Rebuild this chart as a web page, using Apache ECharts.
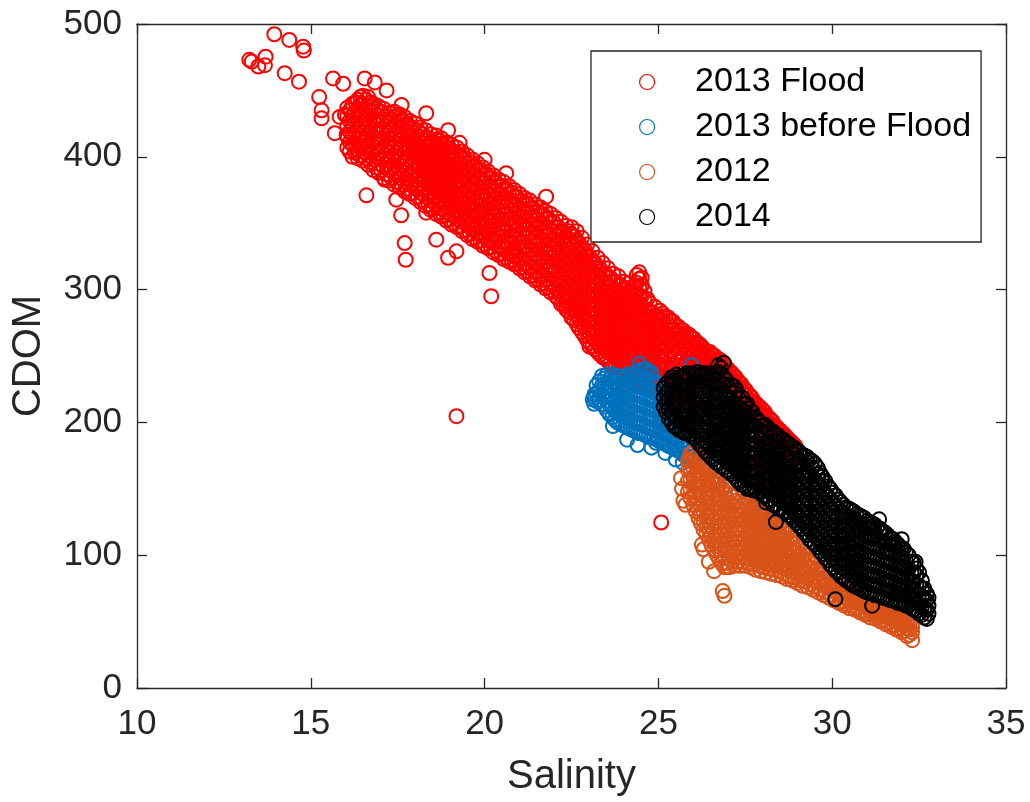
<!DOCTYPE html>
<html><head><meta charset="utf-8">
<script src="https://cdn.jsdelivr.net/npm/echarts/dist/echarts.min.js"></script>
<style>html,body{margin:0;padding:0;background:#fff}#c{width:1030px;height:802px}</style>
</head><body><div id="c"></div>
<script>
// ---- data (salinity, CDOM) ----
const seriesNames = ['2013 Flood', '2013 before Flood', '2012', '2014'];
const seriesColors = ['#FF0000', '#0072BD', '#D95319', '#000000'];
const xTickValues = [10, 15, 20, 25, 30, 35];
const yTickValues = [0, 100, 200, 300, 400, 500];

// 2013 Flood: columns [salinity, [CDOM values]]
const floodCols = [
  [16.05, [407, 415, 423, 431, 437]],
  [16.2, [400, 409, 416, 424, 431, 440]],
  [16.35, [399, 405, 413, 420, 428, 436, 443]],
  [16.5, [397, 404, 411, 418, 426, 433, 440, 446]],
  [16.65, [394, 401, 409, 416, 423, 431, 438, 445]],
  [16.8, [390, 398, 405, 412, 420, 427, 434, 440]],
  [16.95, [388, 395, 403, 410, 417, 424, 431, 438]],
  [17.1, [384, 392, 399, 407, 414, 421, 428, 436]],
  [17.25, [382, 390, 397, 404, 411, 418, 426, 433]],
  [17.4, [379, 387, 394, 401, 408, 416, 423, 430, 434]],
  [17.55, [377, 384, 391, 399, 406, 413, 420, 427, 432]],
  [17.7, [374, 381, 388, 396, 403, 410, 417, 424, 430]],
  [17.85, [372, 379, 386, 393, 400, 407, 414, 421, 427]],
  [18.0, [369, 376, 383, 390, 397, 404, 411, 418, 425]],
  [18.15, [366, 373, 380, 387, 394, 401, 408, 415, 422]],
  [18.3, [363, 370, 377, 384, 391, 398, 405, 412, 420]],
  [18.45, [360, 367, 374, 381, 388, 395, 402, 409, 417]],
  [18.6, [357, 364, 371, 378, 385, 392, 399, 406, 413, 416]],
  [18.75, [355, 361, 368, 375, 382, 389, 396, 403, 410, 414]],
  [18.9, [352, 358, 365, 372, 379, 386, 393, 400, 407, 411]],
  [19.05, [349, 356, 362, 369, 376, 383, 390, 397, 404, 409]],
  [19.2, [347, 353, 360, 366, 373, 380, 387, 394, 401, 407]],
  [19.35, [344, 351, 357, 364, 371, 378, 385, 391, 398, 404]],
  [19.5, [341, 348, 354, 361, 368, 375, 382, 388, 395, 401]],
  [19.65, [338, 345, 352, 358, 365, 372, 379, 385, 392, 398]],
  [19.8, [336, 342, 349, 356, 363, 369, 376, 383, 390, 395]],
  [19.95, [333, 340, 346, 353, 360, 367, 373, 380, 386, 392]],
  [20.1, [331, 337, 344, 351, 357, 364, 371, 377, 384, 389]],
  [20.25, [328, 335, 341, 348, 355, 361, 368, 374, 381, 386]],
  [20.4, [326, 332, 339, 345, 352, 359, 365, 372, 378, 383]],
  [20.55, [323, 330, 336, 343, 349, 356, 362, 369, 375, 381]],
  [20.7, [321, 327, 334, 340, 347, 353, 360, 366, 372, 378]],
  [20.85, [319, 325, 331, 338, 344, 351, 357, 363, 370, 375]],
  [21.0, [316, 322, 329, 335, 341, 348, 354, 360, 366, 372]],
  [21.15, [313, 319, 326, 332, 339, 345, 351, 358, 364, 369]],
  [21.3, [310, 316, 323, 329, 336, 342, 349, 355, 361, 367]],
  [21.45, [307, 313, 320, 326, 333, 339, 346, 352, 358, 364]],
  [21.6, [304, 310, 317, 323, 330, 336, 343, 349, 356, 362]],
  [21.75, [301, 307, 314, 320, 327, 333, 340, 346, 353, 359]],
  [21.9, [298, 304, 311, 317, 324, 331, 337, 344, 350, 357]],
  [22.05, [295, 301, 308, 315, 321, 328, 334, 341, 347, 354]],
  [22.2, [289, 296, 303, 310, 317, 323, 330, 337, 344, 351]],
  [22.35, [285, 291, 298, 305, 312, 319, 326, 333, 340, 348]],
  [22.5, [279, 286, 293, 300, 307, 314, 321, 328, 335, 342, 347]],
  [22.65, [274, 281, 288, 295, 302, 309, 316, 323, 330, 337, 344]],
  [22.8, [268, 275, 282, 289, 296, 303, 310, 317, 324, 331, 339]],
  [22.95, [262, 269, 276, 283, 290, 297, 304, 311, 318, 326, 334]],
  [23.1, [257, 264, 271, 278, 285, 292, 299, 306, 313, 321, 329]],
  [23.25, [253, 260, 267, 274, 281, 288, 295, 302, 309, 316, 324]],
  [23.4, [249, 256, 263, 270, 277, 284, 291, 298, 305, 312, 320]],
  [23.55, [246, 253, 260, 267, 274, 281, 288, 295, 302, 309, 316]],
  [23.7, [243, 250, 257, 264, 271, 278, 285, 292, 299, 306, 312]],
  [23.85, [241, 248, 255, 262, 269, 276, 283, 290, 297, 304, 310]],
  [24.0, [237, 244, 251, 258, 265, 272, 279, 286, 293, 300, 306]],
  [24.15, [235, 242, 249, 256, 263, 270, 277, 284, 291, 298, 305]],
  [24.3, [233, 240, 247, 254, 261, 268, 275, 282, 289, 296, 303]],
  [24.45, [231, 238, 245, 252, 259, 266, 273, 280, 287, 294, 301, 308, 313]],
  [24.6, [229, 236, 243, 250, 257, 264, 271, 278, 285, 292, 299]],
  [24.75, [227, 234, 241, 248, 255, 262, 269, 276, 283, 290]],
  [24.9, [224, 231, 238, 245, 252, 259, 266, 273, 280, 287]],
  [25.05, [221, 228, 235, 242, 249, 256, 263, 270, 277, 284]],
  [25.2, [218, 226, 234, 242, 250, 258, 265, 272, 280]],
  [25.35, [214, 222, 230, 238, 246, 254, 262, 270, 277]],
  [25.5, [210, 220, 230, 240, 250, 258, 266, 273]],
  [25.65, [207, 218, 228, 238, 248, 256, 263, 270]],
  [25.8, [204, 215, 226, 237, 246, 254, 261, 267]],
  [25.95, [200, 212, 224, 235, 245, 252, 258, 264]],
  [26.1, [196, 208, 220, 232, 243, 250, 256, 260]],
  [26.25, [193, 206, 219, 231, 242, 248, 253, 257]],
  [26.4, [190, 204, 218, 231, 241, 247, 253]],
  [26.55, [186, 200, 214, 228, 240, 246, 251]],
  [26.7, [153, 183, 198, 213, 228, 238, 244, 248]],
  [26.85, [150, 179, 195, 211, 227, 236, 241, 245]],
  [27.0, [175, 191, 207, 222, 231, 236, 240]],
  [27.15, [171, 187, 203, 218, 226, 231, 236]],
  [27.3, [167, 183, 199, 213, 221, 227, 231]],
  [27.45, [164, 180, 196, 209, 217, 222, 226]],
  [27.6, [161, 177, 193, 205, 212, 217, 221]],
  [27.75, [158, 174, 190, 201, 207, 212, 216]],
  [27.9, [155, 171, 187, 197, 203, 208, 212]],
  [28.05, [152, 168, 184, 193, 199, 204, 208]],
  [28.2, [150, 166, 180, 189, 195, 199, 203]],
  [28.35, [149, 164, 177, 186, 191, 195, 198]],
  [28.5, [148, 162, 174, 182, 187, 191, 194]],
  [28.65, [147, 160, 171, 179, 184, 187, 190]],
  [28.8, [150, 163, 173, 179, 183, 186]],
  [28.95, [155, 166, 174, 179, 182]]
];
const floodColsB = [
  [16.12, [404, 411, 419, 427, 435]],
  [16.28, [403, 410, 418, 426, 434, 441]],
  [16.42, [401, 408, 416, 424, 432, 439, 445]],
  [16.58, [399, 407, 414, 422, 429, 436, 443]],
  [16.72, [396, 403, 411, 418, 426, 434, 441]],
  [16.88, [392, 400, 407, 414, 421, 428, 436]],
  [17.02, [390, 398, 405, 412, 419, 427, 434]],
  [17.18, [387, 394, 401, 409, 416, 423, 430]],
  [17.32, [384, 392, 399, 406, 413, 420, 428]],
  [17.48, [381, 388, 396, 403, 410, 417, 424, 431]],
  [17.62, [379, 386, 393, 400, 408, 415, 422, 428]],
  [17.78, [376, 383, 390, 398, 405, 412, 419, 425]],
  [17.92, [373, 380, 387, 395, 402, 409, 416, 422]],
  [18.08, [370, 377, 385, 392, 399, 406, 413, 420]],
  [18.22, [367, 375, 382, 389, 396, 403, 410, 417]],
  [18.38, [364, 372, 379, 386, 393, 400, 407, 414]],
  [18.52, [361, 369, 376, 383, 390, 397, 404, 411]],
  [18.68, [358, 366, 373, 380, 387, 394, 401, 408, 412]],
  [18.82, [356, 363, 370, 377, 384, 391, 398, 405, 409]],
  [18.98, [353, 360, 367, 374, 381, 388, 395, 402, 407]],
  [19.12, [350, 357, 364, 371, 378, 385, 392, 399, 404]],
  [19.28, [348, 355, 362, 368, 375, 382, 389, 396, 402]],
  [19.42, [345, 352, 359, 366, 372, 379, 386, 393, 399]],
  [19.58, [342, 349, 356, 363, 369, 376, 383, 390, 396]],
  [19.72, [339, 346, 353, 360, 366, 373, 380, 387, 393]],
  [19.88, [337, 343, 350, 357, 364, 370, 377, 384, 390]],
  [20.02, [334, 341, 348, 354, 361, 368, 374, 381, 387]],
  [20.18, [332, 338, 345, 352, 358, 365, 371, 378, 384]],
  [20.32, [329, 336, 342, 349, 356, 362, 369, 375, 381]],
  [20.48, [327, 333, 340, 346, 353, 359, 366, 372, 378]],
  [20.62, [324, 331, 337, 344, 350, 357, 363, 369, 376]],
  [20.78, [322, 328, 335, 341, 348, 354, 360, 367, 373]],
  [20.92, [320, 326, 332, 339, 345, 351, 358, 364, 370]],
  [21.08, [317, 323, 330, 336, 342, 349, 355, 361, 367]],
  [21.22, [314, 320, 327, 333, 340, 346, 352, 359, 365]],
  [21.38, [311, 317, 324, 330, 337, 343, 349, 356, 362]],
  [21.52, [308, 314, 321, 327, 334, 340, 347, 353, 359]],
  [21.68, [305, 311, 318, 324, 331, 337, 344, 350, 357]],
  [21.82, [302, 308, 315, 321, 328, 334, 341, 347, 354]],
  [21.98, [299, 305, 312, 318, 325, 331, 338, 344, 351]],
  [22.12, [293, 299, 306, 313, 320, 326, 333, 340, 347]],
  [22.28, [288, 294, 301, 308, 315, 322, 329, 336, 343]],
  [22.42, [283, 289, 296, 303, 310, 317, 324, 331, 338, 344]],
  [22.58, [277, 284, 291, 298, 305, 312, 319, 326, 333, 340]],
  [22.72, [271, 278, 285, 292, 299, 306, 313, 320, 327, 335]],
  [22.88, [265, 272, 279, 286, 293, 300, 307, 314, 322, 330]],
  [23.02, [260, 267, 274, 281, 288, 295, 302, 309, 317, 325]],
  [23.18, [255, 262, 269, 276, 283, 290, 297, 304, 312, 320]],
  [23.32, [251, 258, 265, 272, 279, 286, 293, 300, 308, 316]],
  [23.48, [248, 255, 262, 269, 276, 283, 290, 297, 305, 312]],
  [23.62, [245, 252, 259, 266, 273, 280, 287, 294, 302, 309]],
  [23.78, [242, 249, 256, 263, 270, 277, 284, 291, 299, 306]],
  [23.92, [239, 246, 253, 260, 267, 274, 281, 288, 296, 303]],
  [24.08, [236, 243, 250, 257, 264, 271, 278, 285, 293, 301]],
  [24.22, [234, 241, 248, 255, 262, 269, 276, 283, 291, 299]],
  [24.38, [232, 239, 246, 253, 260, 267, 274, 281, 289, 297, 305, 311]],
  [24.52, [230, 237, 244, 251, 258, 265, 272, 279, 287, 295, 303, 309]],
  [24.68, [228, 235, 242, 249, 256, 263, 270, 277, 285, 293]],
  [24.82, [226, 233, 240, 247, 254, 261, 268, 275, 283]],
  [24.98, [223, 230, 237, 244, 251, 258, 265, 272, 280]],
  [25.12, [222, 230, 238, 246, 254, 261, 268, 276, 282]],
  [25.28, [218, 226, 234, 242, 250, 258, 266, 274, 279]],
  [25.42, [224, 234, 244, 254, 262, 270, 276]],
  [25.58, [222, 233, 243, 252, 260, 267, 272]],
  [25.72, [220, 232, 242, 250, 258, 265, 269]],
  [25.88, [229, 240, 249, 255, 261, 266]],
  [26.02, [238, 247, 253, 259, 263]],
  [26.18, [237, 245, 251, 255, 259]],
  [26.32, [236, 244, 250, 255]],
  [26.48, [235, 243, 249, 253]],
  [26.62, [242, 247, 250]],
  [26.78, [240, 244, 247]],
  [26.92, [234, 238, 243]],
  [27.08, [229, 234, 238]],
  [27.22, [224, 229, 234]],
  [27.38, [219, 224, 229]],
  [27.52, [215, 220, 224]],
  [27.68, [210, 215, 219]],
  [27.82, [205, 210, 214]],
  [27.98, [201, 206, 210]],
  [28.12, [197, 201, 205]],
  [28.28, [193, 197, 201]],
  [28.42, [189, 193, 196]],
  [28.58, [185, 189, 192]],
  [28.72, [181, 185, 188]],
  [28.88, [178, 181, 184]]
];
const floodExtra = [
  [13.23, 473], [13.3, 471.7], [13.49, 468], [13.7, 475.4], [13.68, 469], [13.95, 492.3],
  [14.38, 488], [14.78, 482.9], [14.8, 480], [14.25, 463], [14.66, 456.6],
  [15.24, 445], [15.31, 435], [15.31, 429], [15.64, 459], [15.93, 455], [15.83, 430],
  [15.98, 431.6], [15.69, 417.8], [16.03, 416.5], [16.55, 459], [16.84, 456],
  [17.18, 450], [17.61, 439], [18.32, 432.8], [18.95, 420], [19.28, 410.5],
  [20.0, 397.7], [20.62, 387.7], [21.77, 370], [16.6, 371], [17.6, 356], [17.7, 335],
  [17.73, 322.5], [17.13, 382.7], [17.46, 367.7], [18.32, 357.9], [18.61, 337.6],
  [18.95, 324], [19.19, 328.8], [20.14, 312.5], [20.19, 295], [22.35, 287.5],
  [22.73, 280], [23.02, 257], [23.5, 250], [19.19, 204.7], [25.08, 124.6]
];

// 2013 before Flood
const beforeCols = [
  [23.15, [214, 219]],
  [23.3, [217, 224, 231]],
  [23.45, [212, 219, 226, 233]],
  [23.6, [206, 213, 220, 227, 233]],
  [23.75, [202, 209, 216, 223, 230, 234]],
  [23.9, [199, 206, 213, 220, 227, 233]],
  [24.05, [197, 204, 211, 218, 225, 233]],
  [24.2, [195, 202, 209, 216, 223, 230, 235]],
  [24.35, [193, 200, 207, 214, 221, 228, 236]],
  [24.5, [192, 199, 206, 213, 220, 227, 234, 238]],
  [24.65, [190, 197, 204, 211, 218, 225, 232, 240]],
  [24.8, [189, 196, 203, 210, 217, 224, 231, 237]],
  [24.95, [187, 194, 201, 208, 215, 222, 230]],
  [25.1, [185, 192, 199, 206, 213, 220]],
  [25.25, [183, 190, 197, 204, 212]],
  [25.4, [181, 188, 195, 203]],
  [25.55, [179, 186, 194]],
  [25.7, [176, 183, 190]],
  [25.85, [174, 181]],
  [26.0, [172, 180]],
  [26.15, [169, 177]],
  [26.4, [163, 171]],
  [26.7, [156, 164]],
  [26.95, [152]],
  [27.3, [146, 155]],
  [27.8, [138, 146]],
  [28.3, [128, 138]],
  [28.8, [118, 128]],
  [29.3, [106, 116]],
  [29.8, [96, 106]],
  [30.3, [86, 95]],
  [30.8, [78, 86]],
  [31.3, [70, 78]],
  [31.8, [63, 70]],
  [32.2, [58]]
];
const beforeColsB = [
  [23.22, [216, 222, 228]],
  [23.38, [214, 221, 228, 235]],
  [23.52, [209, 216, 223, 230, 236]],
  [23.68, [204, 211, 218, 225, 231, 236]],
  [23.82, [200, 207, 214, 221, 228, 235]],
  [23.98, [198, 205, 212, 219, 226, 234]],
  [24.12, [196, 203, 210, 217, 224, 231, 236]],
  [24.28, [194, 201, 208, 215, 222, 229, 236]],
  [24.42, [192, 199, 206, 213, 220, 227, 234, 239]],
  [24.58, [191, 198, 205, 212, 219, 226, 233, 240]],
  [24.72, [189, 196, 203, 210, 217, 224, 231, 238]],
  [24.88, [188, 195, 202, 209, 216, 223, 230]],
  [25.02, [186, 193, 200, 207, 214, 221]],
  [25.18, [184, 191, 198, 205]],
  [25.32, [182, 189, 196]],
  [25.48, [180, 187, 194]],
  [25.62, [178, 185]],
  [25.78, [175, 182]],
  [25.92, [173, 178]]
];
const beforeExtra = [
  [23.11, 217.3], [23.3, 216], [23.16, 221], [23.69, 197.2], [24.93, 184.7],
  [25.7, 169.7], [25.95, 243], [24.45, 244], [24.1, 187], [24.4, 183],
  [24.8, 181], [25.2, 177], [25.5, 172]
];

// 2012
const y2012Cols = [
  [25.85, [148, 156, 164, 171]],
  [26.0, [138, 145, 152, 159, 166, 173, 177]],
  [26.15, [128, 135, 142, 149, 156, 163, 170, 175]],
  [26.3, [119, 126, 133, 140, 147, 154, 161, 167]],
  [26.45, [112, 119, 126, 133, 140, 147, 154, 161]],
  [26.6, [104, 111, 118, 125, 132, 139, 146, 153, 158]],
  [26.75, [97, 104, 111, 118, 125, 132, 139, 146, 154]],
  [26.9, [91, 98, 105, 112, 119, 126, 133, 140, 148]],
  [27.05, [91, 97, 104, 111, 118, 125, 132, 139, 146]],
  [27.2, [92, 99, 106, 113, 120, 127, 134, 141]],
  [27.35, [92, 99, 106, 113, 120, 127, 134, 140]],
  [27.5, [92, 98, 105, 112, 119, 126, 133, 139]],
  [27.65, [91, 97, 104, 111, 118, 125, 132, 137]],
  [27.8, [89, 96, 103, 110, 117, 124, 131, 136]],
  [27.95, [88, 95, 102, 109, 116, 123, 130, 134]],
  [28.1, [87, 94, 101, 108, 115, 122, 129]],
  [28.25, [86, 93, 100, 107, 114, 121, 126]],
  [28.4, [85, 92, 99, 106, 113, 120, 124]],
  [28.55, [84, 91, 98, 105, 112, 119]],
  [28.7, [82, 89, 96, 103, 110, 116]],
  [28.85, [81, 88, 95, 102, 109, 113]],
  [29.0, [79, 86, 93, 100, 106]],
  [29.15, [77, 84, 91, 98, 103]],
  [29.3, [76, 83, 90, 97]],
  [29.45, [74, 81, 88, 93]],
  [29.6, [72, 79, 86, 90]],
  [29.75, [70, 77, 83]],
  [29.9, [68, 75, 81]],
  [30.05, [66, 73, 79]],
  [30.2, [64, 70, 76]],
  [30.35, [62, 68, 73]],
  [30.5, [60, 66, 71]],
  [30.65, [59, 65, 69]],
  [30.8, [57, 63, 67]],
  [30.95, [55, 61, 65]],
  [31.1, [53, 59, 63]],
  [31.25, [52, 57, 61]],
  [31.4, [50, 55, 59]],
  [31.55, [48, 54, 58]],
  [31.7, [46, 52, 56]],
  [31.85, [44, 50, 54]],
  [32.0, [42, 48, 52]],
  [32.15, [39, 45, 49]],
  [32.3, [36, 42, 46]]
];
const y2012ColsB = [
  [25.92, [143, 150, 157, 164, 171, 176]],
  [26.08, [133, 140, 147, 154, 161, 168, 174]],
  [26.22, [124, 131, 138, 145, 152, 159, 166, 172]],
  [26.38, [116, 122, 129, 136, 143, 150, 157, 164]],
  [26.52, [108, 115, 122, 129, 136, 143, 150, 157]],
  [26.68, [100, 107, 114, 121, 128, 135, 142, 149, 156]],
  [26.82, [94, 101, 108, 115, 122, 129, 136, 143, 151]],
  [26.98, [91, 94, 101, 108, 115, 122, 129, 136, 143]],
  [27.12, [95, 102, 109, 116, 123, 130, 137, 144]],
  [27.28, [95, 102, 109, 116, 123, 130, 137]],
  [27.42, [95, 102, 109, 116, 123, 130, 137]],
  [27.58, [94, 101, 108, 115, 122, 129, 136]],
  [27.72, [93, 100, 107, 114, 121, 128, 134]],
  [27.88, [92, 99, 106, 113, 120, 127, 133]],
  [28.02, [91, 98, 105, 112, 119, 126, 131]],
  [28.18, [90, 97, 104, 111, 118, 125, 128]],
  [28.32, [89, 96, 103, 110, 117, 123]],
  [28.48, [88, 95, 102, 109, 116, 121]],
  [28.62, [86, 93, 100, 107, 113, 118]],
  [28.78, [84, 91, 98, 105, 111]],
  [28.92, [83, 90, 97, 104, 109]],
  [29.08, [81, 88, 95, 101]],
  [29.22, [80, 87, 94, 100]],
  [29.38, [78, 85, 91, 95]],
  [29.52, [76, 83, 89]],
  [29.68, [74, 80, 86]],
  [29.82, [72, 78, 83]],
  [29.98, [70, 76, 80]],
  [30.12, [67, 73, 78]],
  [30.28, [65, 71, 75]],
  [30.42, [63, 69, 72]],
  [30.58, [62, 67, 70]],
  [30.72, [60, 66, 68]],
  [30.88, [58, 64, 66]],
  [31.02, [56, 62, 64]],
  [31.18, [55, 60, 62]],
  [31.32, [53, 58, 60]],
  [31.48, [51, 56, 58]],
  [31.62, [49, 54, 57]],
  [31.78, [47, 52, 55]],
  [31.92, [45, 50, 53]],
  [32.08, [43, 47, 51]],
  [32.22, [40, 44, 48]]
];
const y2012Extra = [
  [26.85, 73], [26.9, 69.4], [25.72, 141], [25.78, 138], [25.68, 150], [25.65, 158],
  [26.25, 108], [26.3, 104.5], [26.45, 95], [26.6, 88]
];

// 2014
const y2014Cols = [
  [25.15, [212, 219, 226]],
  [25.3, [203, 210, 217, 224, 231]],
  [25.45, [197, 204, 211, 218, 225, 232]],
  [25.6, [194, 201, 208, 215, 222, 229, 234]],
  [25.75, [192, 199, 206, 213, 220, 227, 235]],
  [25.9, [191, 198, 205, 212, 219, 226, 236]],
  [26.05, [188, 195, 202, 209, 216, 223, 230, 236]],
  [26.2, [183, 190, 197, 204, 211, 218, 225, 231, 236]],
  [26.35, [178, 185, 192, 199, 206, 213, 220, 227, 236]],
  [26.5, [174, 181, 188, 195, 202, 209, 216, 223, 230, 235]],
  [26.65, [170, 177, 184, 191, 198, 205, 212, 219, 226, 236]],
  [26.8, [167, 174, 181, 188, 195, 202, 209, 216, 223, 230, 236, 241]],
  [26.95, [164, 171, 178, 185, 192, 199, 206, 213, 220, 232]],
  [27.1, [161, 168, 175, 182, 189, 196, 203, 210, 217, 228]],
  [27.25, [157, 164, 171, 178, 185, 192, 199, 206, 213, 224]],
  [27.4, [153, 160, 167, 174, 181, 188, 195, 202, 210, 219]],
  [27.55, [150, 157, 164, 171, 178, 185, 192, 199, 206, 214]],
  [27.7, [149, 156, 163, 170, 177, 184, 191, 198, 208]],
  [27.85, [148, 155, 162, 169, 176, 183, 190, 202]],
  [28.0, [145, 152, 159, 166, 173, 180, 187, 198]],
  [28.15, [142, 149, 156, 163, 170, 177, 184, 196]],
  [28.3, [138, 145, 152, 159, 166, 173, 180, 193]],
  [28.45, [135, 142, 149, 156, 163, 170, 177, 190]],
  [28.6, [133, 140, 147, 154, 161, 168, 175, 187]],
  [28.75, [130, 137, 144, 151, 158, 165, 172, 184]],
  [28.9, [126, 133, 140, 147, 154, 161, 168, 181]],
  [29.05, [122, 129, 136, 143, 150, 157, 164, 171, 178]],
  [29.2, [117, 124, 131, 138, 145, 152, 159, 166, 175]],
  [29.35, [112, 119, 126, 133, 140, 147, 154, 161, 172]],
  [29.5, [108, 115, 122, 129, 136, 143, 150, 157, 169]],
  [29.65, [103, 110, 117, 124, 131, 138, 145, 152, 162]],
  [29.8, [98, 105, 112, 119, 126, 133, 140, 147, 156]],
  [29.95, [93, 100, 107, 114, 121, 128, 135, 142, 150]],
  [30.1, [88, 95, 102, 109, 116, 123, 130, 137, 145]],
  [30.25, [84, 91, 98, 105, 112, 119, 126, 133, 140]],
  [30.4, [81, 88, 95, 102, 109, 116, 123, 130, 136]],
  [30.55, [78, 85, 92, 99, 106, 113, 120, 127, 134]],
  [30.7, [76, 83, 90, 97, 104, 111, 118, 125, 131]],
  [30.85, [74, 81, 88, 95, 102, 109, 116, 123, 129]],
  [31.0, [72, 79, 86, 93, 100, 107, 114, 121, 126]],
  [31.15, [71, 78, 85, 92, 99, 106, 113, 120, 124]],
  [31.3, [70, 77, 84, 91, 98, 105, 112, 121]],
  [31.45, [68, 75, 82, 89, 96, 103, 110, 118]],
  [31.6, [67, 74, 81, 88, 95, 102, 109, 115]],
  [31.75, [66, 73, 80, 87, 94, 101, 108, 112]],
  [31.9, [64, 71, 78, 85, 92, 99, 108]],
  [32.05, [63, 70, 77, 84, 91, 98, 105]],
  [32.2, [62, 69, 76, 83, 90, 100]],
  [32.35, [59, 66, 73, 80, 87, 94]],
  [32.5, [56, 63, 70, 77, 87]],
  [32.65, [53, 60, 67, 75]],
  [32.77, [56, 62, 68]]
];
const y2014ColsB = [
  [25.22, [208, 215, 222, 229]],
  [25.38, [200, 207, 214, 221, 228, 234]],
  [25.52, [196, 203, 210, 217, 224, 231, 236]],
  [25.68, [193, 200, 207, 214, 221, 228, 235]],
  [25.82, [192, 198, 205, 212, 219, 226, 232, 237]],
  [25.98, [189, 196, 203, 210, 217, 224, 231, 237]],
  [26.12, [186, 193, 200, 207, 214, 221, 228, 234, 238]],
  [26.28, [181, 188, 195, 202, 209, 216, 223, 230, 237]],
  [26.42, [176, 183, 190, 197, 204, 211, 218, 225, 232, 237]],
  [26.58, [172, 179, 186, 193, 200, 207, 214, 221, 228, 235]],
  [26.72, [169, 176, 183, 190, 197, 204, 211, 218, 225, 232, 238, 243]],
  [26.88, [166, 173, 180, 187, 194, 201, 208, 215, 222, 228, 234]],
  [27.02, [163, 170, 177, 184, 191, 198, 205, 212, 219, 227]],
  [27.18, [159, 166, 173, 180, 187, 194, 201, 208, 215, 222, 227]],
  [27.32, [155, 162, 169, 176, 183, 190, 197, 204, 211, 218]],
  [27.48, [152, 159, 166, 173, 180, 187, 194, 201, 208, 214]],
  [27.62, [150, 156, 163, 170, 177, 184, 191, 198, 205, 210]],
  [27.78, [149, 155, 162, 169, 176, 183, 190, 197, 204]],
  [27.92, [147, 152, 159, 166, 173, 180, 187, 194, 200]],
  [28.08, [144, 150, 157, 164, 171, 178, 185, 192, 198]],
  [28.22, [141, 147, 154, 161, 168, 175, 182, 189, 194]],
  [28.38, [138, 144, 151, 158, 165, 172, 179, 186, 191]],
  [28.52, [135, 141, 148, 155, 162, 169, 176, 183, 188]],
  [28.68, [132, 138, 145, 152, 159, 166, 173, 180, 185]],
  [28.82, [129, 135, 142, 149, 156, 163, 170, 177, 182]],
  [28.98, [124, 131, 138, 145, 152, 159, 166, 173, 179]],
  [29.12, [120, 126, 133, 140, 147, 154, 161, 168, 175]],
  [29.28, [115, 121, 128, 135, 142, 149, 156, 163, 170, 174]],
  [29.42, [110, 117, 124, 131, 138, 145, 152, 159, 166, 171]],
  [29.58, [106, 112, 119, 126, 133, 140, 147, 154, 161, 166]],
  [29.72, [101, 107, 114, 121, 128, 135, 142, 149, 156, 159]],
  [29.88, [96, 102, 109, 116, 123, 130, 137, 144, 152]],
  [30.02, [91, 97, 104, 111, 118, 125, 132, 139, 147]],
  [30.18, [87, 93, 100, 107, 114, 121, 128, 135, 142]],
  [30.32, [83, 90, 97, 104, 111, 118, 125, 132, 138]],
  [30.48, [80, 87, 94, 101, 108, 115, 122, 129, 135]],
  [30.62, [77, 84, 91, 98, 105, 112, 119, 126, 133]],
  [30.78, [75, 82, 89, 96, 103, 110, 117, 124, 130]],
  [30.92, [73, 80, 87, 94, 101, 108, 115, 122, 128]],
  [31.08, [72, 78, 85, 92, 99, 106, 113, 120, 125]],
  [31.22, [70, 77, 84, 91, 98, 105, 112, 118, 123]],
  [31.38, [69, 76, 83, 90, 97, 104, 111, 117, 120]],
  [31.52, [68, 74, 81, 88, 95, 102, 109, 114, 117]],
  [31.68, [66, 73, 80, 87, 94, 101, 108, 113]],
  [31.82, [65, 71, 78, 85, 92, 99, 106, 110]],
  [31.98, [64, 70, 77, 84, 91, 98, 104]],
  [32.12, [62, 68, 75, 82, 89, 96, 102]],
  [32.28, [60, 66, 73, 80, 87, 95]],
  [32.42, [58, 64, 71, 78, 85, 90]],
  [32.58, [55, 61, 68, 75, 81]],
  [32.72, [52, 59, 66, 71]]
];
const y2014Extra = [
  [26.88, 245], [30.09, 66.9], [28.38, 125], [28.1, 139.6], [31.35, 127], [32.0, 112],
  [32.4, 95], [31.15, 62]
];

// ---- build ----
function toPoints(colSets, extra) {
  const out = [];
  colSets.forEach(function (cols) {
    cols.forEach(function (col) { col[1].forEach(function (c) { out.push([col[0], c]); }); });
  });
  extra.forEach(function (p) { out.push(p); });
  return out;
}
const seriesData = [
  toPoints([floodCols, floodColsB], floodExtra),
  toPoints([beforeCols, beforeColsB], beforeExtra),
  toPoints([y2012Cols, y2012ColsB], y2012Extra),
  toPoints([y2014Cols, y2014ColsB], y2014Extra)
];

const FONT = '"Liberation Sans", Arial, Helvetica, sans-serif';
const AX = '#262626';
const chart = echarts.init(document.getElementById('c'), null, { renderer: 'canvas' });

function axisCommon(label) {
  return {
    axisLine: { show: true, onZero: false, lineStyle: { color: AX, width: 1.3 } },
    axisTick: { show: true, inside: true, length: 10, lineStyle: { color: AX, width: 1.3 } },
    splitLine: { show: false },
    axisLabel: label
  };
}

chart.setOption({
  animation: false,
  backgroundColor: '#fff',
  textStyle: { fontFamily: FONT },
  grid: { left: 137, right: 24, top: 24, bottom: 113, containLabel: false },
  legend: {
    data: seriesNames,
    orient: 'vertical',
    left: 591, top: 51,
    padding: [14, 10, 8, 48],
    itemGap: 11,
    itemWidth: 86, itemHeight: 15,
    icon: 'circle',
    selectedMode: false,
    backgroundColor: '#fff',
    borderColor: AX, borderWidth: 1.3,
    itemStyle: { borderWidth: 1.2 },
    textStyle: { fontFamily: FONT, fontSize: 34, lineHeight: 34, color: '#000' }
  },
  xAxis: [
    Object.assign({
      type: 'value', min: 10, max: 35, interval: 5, position: 'bottom',
      name: 'Salinity', nameLocation: 'middle', nameGap: 69,
      nameTextStyle: { fontFamily: FONT, fontSize: 40, lineHeight: 40, color: AX }
    }, axisCommon({ show: true, margin: 19, fontSize: 35, lineHeight: 35, color: AX, fontFamily: FONT,
      customValues: xTickValues })),
    Object.assign({ type: 'value', min: 10, max: 35, interval: 5, position: 'top' }, axisCommon({ show: false }))
  ],
  yAxis: [
    Object.assign({
      type: 'value', min: 0, max: 500, interval: 100, position: 'left',
      name: 'CDOM', nameLocation: 'middle', nameGap: 88, nameRotate: 90,
      nameTextStyle: { fontFamily: FONT, fontSize: 40, lineHeight: 40, color: AX }
    }, axisCommon({ show: true, margin: 15, fontSize: 35, color: AX, fontFamily: FONT,
      customValues: yTickValues })),
    Object.assign({ type: 'value', min: 0, max: 500, interval: 100, position: 'right' }, axisCommon({ show: false }))
  ],
  series: seriesNames.map(function (name, i) {
    return {
      name: name,
      type: 'scatter',
      xAxisIndex: 0, yAxisIndex: 0,
      symbol: 'circle',
      symbolSize: 14,
      data: seriesData[i],
      silent: true,
      itemStyle: { color: 'rgba(0,0,0,0)', borderColor: seriesColors[i], borderWidth: 2, opacity: 1 },
      emphasis: { disabled: true }
    };
  })
});
</script>
</body></html>
